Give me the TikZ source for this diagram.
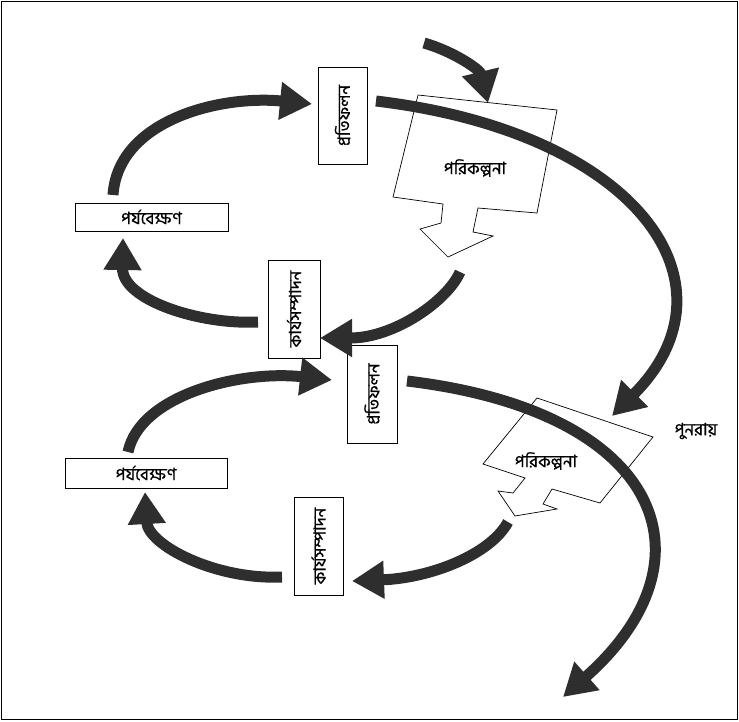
\documentclass[tikz,border=0pt]{standalone}
\usepackage{fontspec}
\newfontfamily\bnfont[Script=Bengali,FakeBold=0.7]{Hind Siliguri}
\usetikzlibrary{arrows.meta}
\definecolor{ink}{HTML}{2E2E2E}
\begin{document}
\begin{tikzpicture}[x=1pt,y=-1pt,
  flow/.style={line width=11pt, draw=ink, -{Triangle[length=32pt,width=36pt]}},
  box/.style={draw, fill=white, line width=0.7pt, inner sep=0pt, font=\bnfont\fontsize{17}{19}\selectfont},
  planshape/.style={draw, fill=white, line width=0.7pt},
  lbl/.style={font=\bnfont\fontsize{17}{19}\selectfont, inner sep=0pt}]
\useasboundingbox (0,0) rectangle (739,721);
\draw[line width=1.2pt] (1.5,1.5) rectangle (737.5,719.5);

% plan shapes
\draw[planshape] (418,95) -- (557,110) -- (537,213) -- (478,208) -- (473,232) -- (493,236) -- (448,257) -- (420,229) -- (441,223) -- (443,204) -- (393,197) -- cycle;
\node[lbl] (plan1) at (475,168) {পরিকল্পনা};
\draw[planshape] (537,398) -- (653,437) -- (600,503) -- (552,489) -- (543,504) -- (557,509) -- (515,516) -- (498,491) -- (513,493) -- (525,478) -- (483,464) -- cycle;
\node[lbl] (plan2) at (546,461) {পরিকল্পনা};
\node[lbl] (again) at (696,431) {পুনরায়};

% boxes
\node[box, rotate=90, minimum width=97pt, minimum height=49pt] (refl1) at (342.5,115.5) {প্রতিফলন};
\node[box, minimum width=153pt, minimum height=28pt] (obs1) at (151.5,217) {পর্যবেক্ষণ};
\node[box, rotate=90, minimum width=98pt, minimum height=52pt] (act1) at (294,309) {কার্যসম্পাদন};
\node[box, rotate=90, minimum width=98pt, minimum height=50pt] (refl2) at (372,394) {প্রতিফলন};
\node[box, minimum width=162pt, minimum height=30pt] (obs2) at (146,473) {পর্যবেক্ষণ};
\node[box, rotate=90, minimum width=98pt, minimum height=49pt] (act2) at (318.5,546) {কার্যসম্পাদন};

% arrow end points
\coordinate (a1s) at (113,195); \coordinate (a1e) at (312,104);
\coordinate (a2s) at (376,101); \coordinate (a2e) at (612,416);
\coordinate (a3s) at (424,43);  \coordinate (a3e) at (488,103);
\coordinate (a4s) at (460,272); \coordinate (a4e) at (320,338);
\coordinate (a5s) at (258,322); \coordinate (a5e) at (123,238);
\coordinate (a6s) at (128,452); \coordinate (a6e) at (332,380);
\coordinate (a7s) at (407,381); \coordinate (a7e) at (563,697);
\coordinate (a9s) at (508,522); \coordinate (a9e) at (352,581);
\coordinate (a10s) at (282,577); \coordinate (a10e) at (145,492);

% arrows
\draw[flow] (a1s) .. controls (118,120) and (220,95) .. (a1e);
\draw[flow] (a2s) .. controls (636,132) and (745,283) .. (a2e);
\draw[flow] (a3s) .. controls (455,52) and (480,70) .. (a3e);
\draw[flow] (a4s) .. controls (448,300) and (395,338) .. (a4e);
\draw[flow] (a5s) .. controls (200,325) and (122,300) .. (a5e);
\draw[flow] (a6s) .. controls (140,395) and (240,370) .. (a6e);
\draw[flow] (a7s) .. controls (660,411) and (720,558) .. (a7e);
\draw[flow] (a9s) .. controls (490,555) and (430,578) .. (a9e);
\draw[flow] (a10s) .. controls (215,580) and (148,545) .. (a10e);
\end{tikzpicture}
\end{document}
